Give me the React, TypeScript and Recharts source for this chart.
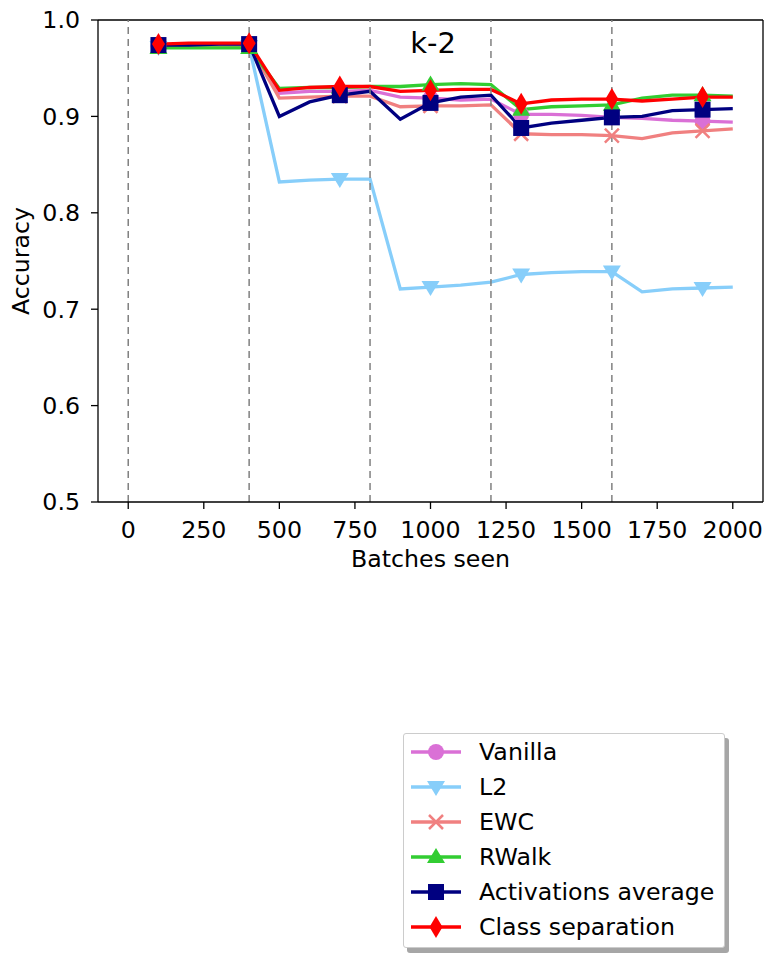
import { LineChart, Line, XAxis, YAxis, ReferenceLine } from 'recharts';

// Accuracy per method, sampled every 100 batches
const batches = [100, 200, 300, 400, 500, 600, 700, 800, 900, 1000, 1100, 1200, 1300, 1400, 1500, 1600, 1700, 1800, 1900, 2000];

const vanilla = [0.973, 0.973, 0.974, 0.974, 0.924, 0.926, 0.926, 0.927, 0.920, 0.919, 0.917, 0.918, 0.902, 0.902, 0.901, 0.899, 0.898, 0.896, 0.895, 0.894];
const l2 = [0.972, 0.972, 0.972, 0.973, 0.832, 0.834, 0.835, 0.835, 0.721, 0.723, 0.725, 0.728, 0.736, 0.738, 0.739, 0.739, 0.718, 0.721, 0.722, 0.723];
const ewc = [0.973, 0.973, 0.973, 0.974, 0.919, 0.920, 0.921, 0.921, 0.910, 0.911, 0.911, 0.912, 0.882, 0.881, 0.881, 0.880, 0.877, 0.883, 0.885, 0.887];
const rwalk = [0.971, 0.971, 0.971, 0.971, 0.929, 0.930, 0.930, 0.931, 0.931, 0.933, 0.934, 0.933, 0.907, 0.910, 0.911, 0.912, 0.919, 0.922, 0.922, 0.921];
const activations = [0.974, 0.974, 0.975, 0.975, 0.900, 0.915, 0.922, 0.926, 0.897, 0.914, 0.920, 0.922, 0.888, 0.893, 0.896, 0.899, 0.900, 0.906, 0.907, 0.908];
const classSep = [0.975, 0.976, 0.976, 0.976, 0.927, 0.930, 0.931, 0.931, 0.926, 0.927, 0.928, 0.928, 0.913, 0.917, 0.918, 0.918, 0.916, 0.918, 0.920, 0.920];

// task boundaries
const taskBoundaries = [0, 400, 800, 1200, 1600];
const xTicks = [0, 250, 500, 750, 1000, 1250, 1500, 1750, 2000];
const yTicks = [0.5, 0.6, 0.7, 0.8, 0.9, 1.0];

type Shape = 'circle' | 'triangleDown' | 'cross' | 'triangleUp' | 'square' | 'diamond';

const series: { key: string; name: string; color: string; shape: Shape }[] = [
  { key: 'vanilla', name: 'Vanilla', color: '#da70d6', shape: 'circle' },
  { key: 'l2', name: 'L2', color: '#87cefa', shape: 'triangleDown' },
  { key: 'ewc', name: 'EWC', color: '#f08080', shape: 'cross' },
  { key: 'rwalk', name: 'RWalk', color: '#32cd32', shape: 'triangleUp' },
  { key: 'activations', name: 'Activations average', color: '#000080', shape: 'square' },
  { key: 'classSep', name: 'Class separation', color: '#ff0000', shape: 'diamond' },
];

const data = batches.map((b, i) => ({
  batch: b,
  vanilla: vanilla[i],
  l2: l2[i],
  ewc: ewc[i],
  rwalk: rwalk[i],
  activations: activations[i],
  classSep: classSep[i],
}));

const FONT = '"DejaVu Sans", sans-serif';
const FONT_SIZE = 23.7;

function Marker({ shape, color, cx, cy }: { shape: Shape; color: string; cx: number; cy: number }) {
  switch (shape) {
    case 'circle':
      return <circle cx={cx} cy={cy} r={8} fill={color} />;
    case 'triangleDown':
      return <polygon points={`${cx - 9},${cy - 6} ${cx + 9},${cy - 6} ${cx},${cy + 9}`} fill={color} />;
    case 'triangleUp':
      return <polygon points={`${cx - 9},${cy + 6} ${cx + 9},${cy + 6} ${cx},${cy - 9}`} fill={color} />;
    case 'cross':
      return (
        <path
          d={`M${cx - 7},${cy - 7}L${cx + 7},${cy + 7}M${cx - 7},${cy + 7}L${cx + 7},${cy - 7}`}
          stroke={color}
          strokeWidth={2.5}
        />
      );
    case 'square':
      return <rect x={cx - 8} y={cy - 8} width={16} height={16} fill={color} />;
    case 'diamond':
      return <polygon points={`${cx},${cy - 11} ${cx + 6.5},${cy} ${cx},${cy + 11} ${cx - 6.5},${cy}`} fill={color} />;
  }
}

// markers only on every third sample
const makeDot = (shape: Shape, color: string) => (props: any) => {
  const { cx, cy, index } = props;
  if (index % 3 !== 0 || cx == null || cy == null) return <g key={`d-${index}`} />;
  return (
    <g key={`d-${index}`}>
      <Marker shape={shape} color={color} cx={cx} cy={cy} />
    </g>
  );
};

const tickStyle = { fontFamily: FONT, fontSize: FONT_SIZE, fill: '#000' };

const Legend = () => (
  <div style={{ position: 'absolute', left: 403, top: 733 }}>
    <div
      style={{
        position: 'absolute',
        left: 4,
        top: 5,
        width: 322,
        height: 215,
        background: '#a6a6a6',
        borderRadius: 3,
      }}
    />
    <div
      style={{
        position: 'absolute',
        left: 0,
        top: 0,
        width: 320,
        height: 213,
        background: '#fff',
        border: '1px solid #cccccc',
        borderRadius: 3,
      }}
    >
      <svg width={320} height={213} style={{ position: 'absolute', left: 0, top: 0 }}>
        {series.map((s, i) => {
          const y = 18 + i * 35;
          return (
            <g key={s.key}>
              <line x1={7} x2={57} y1={y} y2={y} stroke={s.color} strokeWidth={3.3} />
              <Marker shape={s.shape} color={s.color} cx={32} cy={y} />
              <text x={75} y={y + 8.4} fontFamily={FONT} fontSize={FONT_SIZE} fill="#000">
                {s.name}
              </text>
            </g>
          );
        })}
      </svg>
    </div>
  </div>
);

export default function App() {
  return (
    <div style={{ position: 'absolute', left: 0, top: 0, width: 767, height: 961, background: '#fff', fontFamily: FONT }}>
      <LineChart width={767} height={600} data={data} margin={{ top: 20, right: 4, left: 0, bottom: 0 }}>
        <XAxis
          dataKey="batch"
          type="number"
          domain={[-100, 2100]}
          ticks={xTicks}
          height={98}
          tickSize={7}
          tickMargin={12}
          tick={tickStyle}
          axisLine={{ stroke: '#000', strokeWidth: 1.3 }}
          tickLine={{ stroke: '#000', strokeWidth: 1.3 }}
          allowDataOverflow
          label={{
            value: 'Batches seen',
            position: 'insideBottom',
            offset: 33,
            style: { fontFamily: FONT, fontSize: FONT_SIZE, fill: '#000' },
          }}
        />
        <YAxis
          type="number"
          domain={[0.5, 1.0]}
          ticks={yTicks}
          width={98}
          tickSize={7}
          tickMargin={11}
          tick={tickStyle}
          tickFormatter={(v: number) => v.toFixed(1)}
          axisLine={{ stroke: '#000', strokeWidth: 1.3 }}
          tickLine={{ stroke: '#000', strokeWidth: 1.3 }}
          allowDataOverflow
          label={{
            value: 'Accuracy',
            angle: -90,
            position: 'insideLeft',
            offset: 21,
            style: { fontFamily: FONT, fontSize: FONT_SIZE, fill: '#000', textAnchor: 'middle' },
          }}
        />
        {/* top and right spines */}
        <ReferenceLine y={1.0} stroke="#000" strokeWidth={1.3} />
        <ReferenceLine x={2100} stroke="#000" strokeWidth={1.3} />
        {series.map((s) => (
          <Line
            key={s.key}
            dataKey={s.key}
            name={s.name}
            stroke={s.color}
            strokeWidth={3.3}
            strokeLinejoin="miter"
            dot={makeDot(s.shape, s.color)}
            activeDot={false}
            isAnimationActive={false}
          />
        ))}
        {taskBoundaries.map((b) => (
          <ReferenceLine key={b} x={b} stroke="#808080" strokeWidth={1.5} strokeDasharray="7 5" />
        ))}
      </LineChart>
      <div
        style={{
          position: 'absolute',
          left: 433,
          top: 29,
          transform: 'translateX(-50%)',
          fontFamily: FONT,
          fontSize: 29,
          lineHeight: '29px',
          color: '#000',
        }}
      >
        k-2
      </div>
      <Legend />
    </div>
  );
}
